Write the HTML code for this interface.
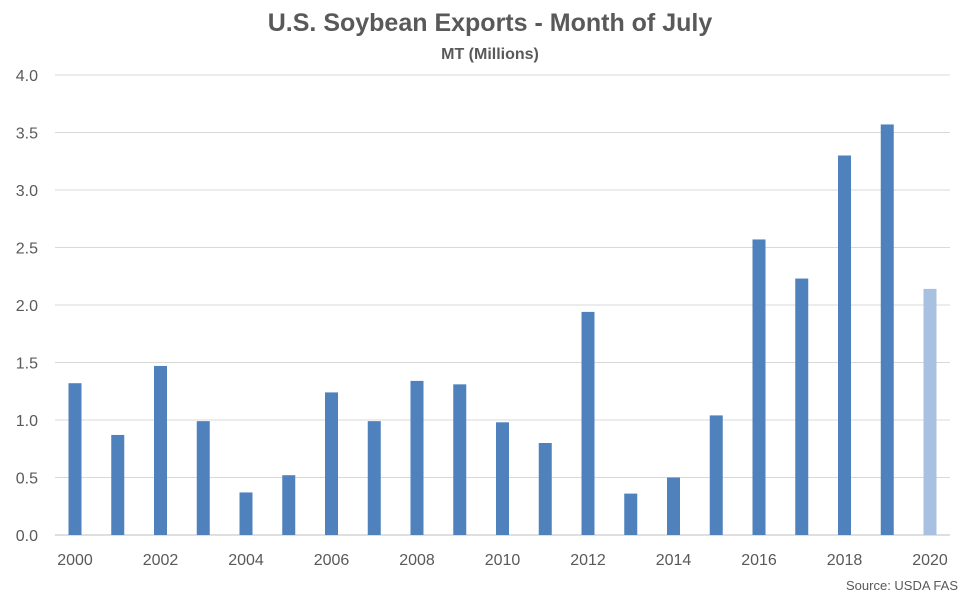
<!DOCTYPE html>
<html><head><meta charset="utf-8"><style>
body{margin:0;background:#fff;}
svg text{font-family:"Liberation Sans",Calibri,sans-serif;fill:#595959;}
</style></head><body>
<svg id="chart" width="975" height="601" viewBox="0 0 975 601" xmlns="http://www.w3.org/2000/svg">
<rect width="975" height="601" fill="#fff"/>
<text x="490" y="31" text-anchor="middle" font-size="25" font-weight="bold">U.S. Soybean Exports - Month of July</text>
<text x="490" y="59" text-anchor="middle" font-size="16" font-weight="bold">MT (Millions)</text>
<g id="grid"></g><g id="bars"></g><g id="xlabels"></g>
<text x="958" y="590" text-anchor="end" font-size="13">Source: USDA FAS</text>
</svg>
<script>
const years=[2000,2001,2002,2003,2004,2005,2006,2007,2008,2009,2010,2011,2012,2013,2014,2015,2016,2017,2018,2019,2020];
const values=[1.32,0.87,1.47,0.99,0.37,0.52,1.24,0.99,1.34,1.31,0.98,0.80,1.94,0.36,0.50,1.04,2.57,2.23,3.30,3.57,2.14];
const yTicks=[0,0.5,1.0,1.5,2.0,2.5,3.0,3.5,4.0];
const xTickLabels=["2000","2002","2004","2006","2008","2010","2012","2014","2016","2018","2020"];
const ns="http://www.w3.org/2000/svg";
const y0=535,pxPer=115,left=55,right=950;
const y=v=>y0-v*pxPer;
const x=i=>75+i*((930-75)/(years.length-1));
const g=document.getElementById('grid');
yTicks.forEach(t=>{
 const l=document.createElementNS(ns,'line');
 
 
 l.setAttribute('x1',left);l.setAttribute('x2',right);l.setAttribute('y1',y(t));l.setAttribute('y2',y(t));
 l.setAttribute('stroke',t===0?'#bfbfbf':'#d9d9d9');l.setAttribute('stroke-width','1');
 g.appendChild(l);
 const tx=document.createElementNS(ns,'text');
 
 
 tx.setAttribute('x',38);tx.setAttribute('y',y(t)+6);tx.setAttribute('text-anchor','end');tx.setAttribute('font-size','16');
 tx.textContent=t.toFixed(1);g.appendChild(tx);
});
const b=document.getElementById('bars');
values.forEach((v,i)=>{
 const r=document.createElementNS(ns,'rect');
 
 
 r.setAttribute('x',x(i)-6.5);r.setAttribute('width',13);r.setAttribute('y',y(v));r.setAttribute('height',v*pxPer);
 r.setAttribute('fill',i===years.length-1?'#a9c1e1':'#4f81bd');
 b.appendChild(r);
});
const xl=document.getElementById('xlabels');
xTickLabels.forEach(s=>{
 const i=years.indexOf(+s);
 const tx=document.createElementNS(ns,'text');
 
 
 tx.setAttribute('x',x(i));tx.setAttribute('y',565);tx.setAttribute('text-anchor','middle');tx.setAttribute('font-size','16');
 tx.textContent=s;xl.appendChild(tx);
});
</script>
</body></html>
